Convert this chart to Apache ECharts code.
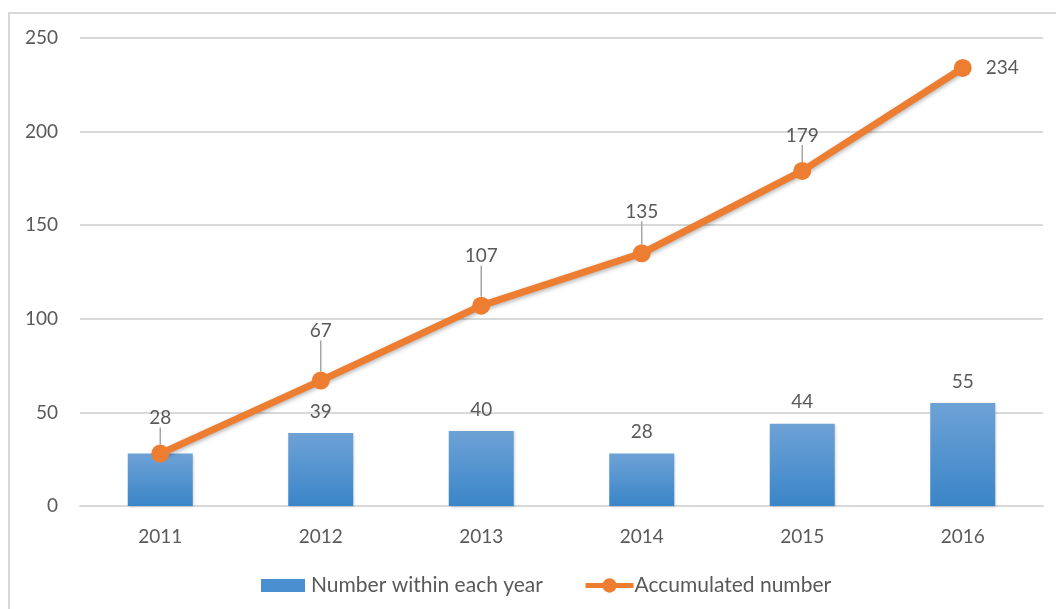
<!DOCTYPE html>
<html><head><meta charset="utf-8">
<script src="https://cdn.jsdelivr.net/npm/echarts@6/dist/echarts.min.js"></script>
<style>html,body{margin:0;padding:0;background:#fff}#c{width:1056px;height:609px}</style>
</head><body><div id="c"></div>
<script>
var categories = ['2011','2012','2013','2014','2015','2016'];
var yearly = [28, 39, 40, 28, 44, 55];
var accumulated = [28, 67, 107, 135, 179, 234];
var yTicks = [0, 50, 100, 150, 200, 250];

var txt = '#595959';
var font = 'Lato, "Open Sans", sans-serif';
var lineLabelDy = [-9, -23, -23, -15, -9, 0];

var chart = echarts.init(document.getElementById('c'));
chart.setOption({
  animation: false,
  textStyle: {fontFamily: font},
  graphic: [{type: 'rect', shape: {x: 9, y: 13, width: 1200, height: 800}, style: {fill: 'none', stroke: '#d9d9d9', lineWidth: 2}, silent: true, z: -1}],
  grid: {left: 80, right: 13, top: 38, bottom: 103},
  legend: [
    {
      left: 256, top: 570, itemWidth: 44, itemHeight: 13, itemGap: 6,
      textStyle: {color: txt, fontSize: 21, fontFamily: font, padding: [0, 0, 0, 1]},
      data: [{name: 'Number within each year', icon: 'rect', itemStyle: {color: '#4a90d0'}}]
    },
    {
      left: 578, top: 570, itemWidth: 48, itemHeight: 18,
      textStyle: {color: txt, fontSize: 21, fontFamily: font, padding: [0, 0, 0, -4]},
      lineStyle: {width: 5},
      data: [{name: 'Accumulated number'}]
    }
  ],
  xAxis: {
    type: 'category', data: categories,
    axisLine: {lineStyle: {color: '#d9d9d9', width: 2}},
    axisTick: {show: false},
    axisLabel: {color: txt, fontSize: 19, margin: 21, fontFamily: font}
  },
  yAxis: {
    type: 'value', min: yTicks[0], max: yTicks[yTicks.length - 1], interval: 50,
    axisLine: {show: false}, axisTick: {show: false},
    splitLine: {lineStyle: {color: '#d9d9d9', width: 2}},
    axisLabel: {color: txt, fontSize: 19, margin: 22, fontFamily: font}
  },
  series: [
    {
      name: 'Number within each year', type: 'bar', barWidth: 65,
      data: yearly.map(function (v, i) {
        return {value: v, label: {show: i !== 0}};
      }),
      itemStyle: {
        color: new echarts.graphic.LinearGradient(0, 0, 0, 1, [
          {offset: 0, color: '#6ea2d6'}, {offset: 1, color: '#3a85c8'}
        ]),
        shadowColor: 'rgba(0,0,0,0.2)', shadowBlur: 3, shadowOffsetX: 1, shadowOffsetY: 1
      },
      label: {show: true, position: 'top', distance: 12, color: txt, fontSize: 19, fontFamily: font}
    },
    {
      name: 'Accumulated number', type: 'line',
      data: accumulated.map(function (v, i) {
        return i === accumulated.length - 1
          ? {value: v, label: {position: 'right', distance: 14}, labelLine: {show: false}}
          : {value: v};
      }),
      symbol: 'circle', symbolSize: 18,
      lineStyle: {color: '#ED7D31', width: 7, shadowColor: 'rgba(0,0,0,0.3)', shadowBlur: 4, shadowOffsetY: 2},
      itemStyle: {color: '#ED7D31'},
      label: {show: true, position: 'top', distance: 8, color: txt, fontSize: 19, fontFamily: font},
      labelLayout: function (p) { return {dy: lineLabelDy[p.dataIndex]}; },
      labelLine: {show: true, lineStyle: {color: '#a6a6a6', width: 1.5}},
      z: 3
    }
  ]
});
</script></body></html>
